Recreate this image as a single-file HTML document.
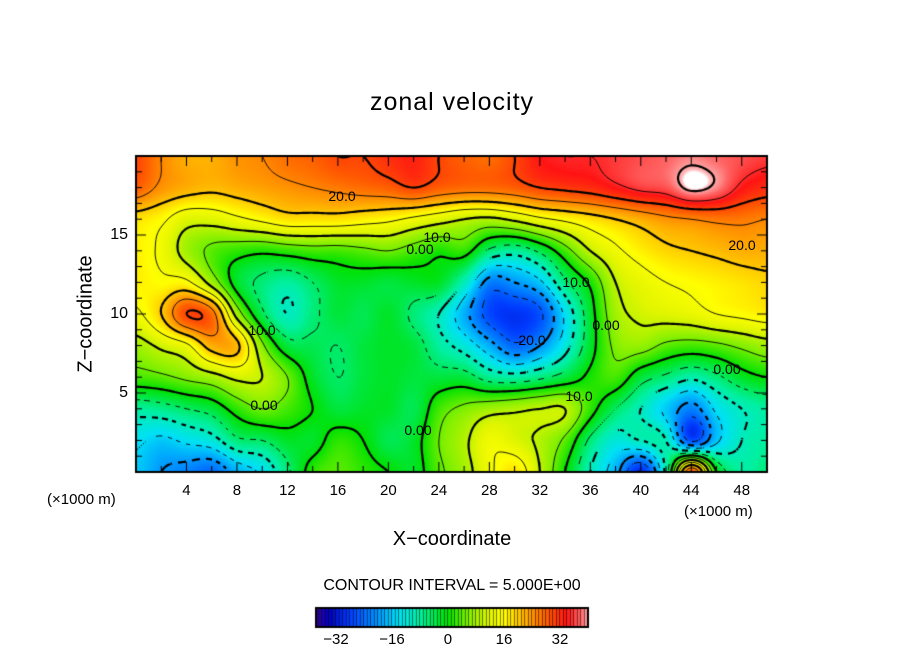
<!DOCTYPE html>
<html><head><meta charset="utf-8"><style>
body{margin:0;background:#fff;width:904px;height:654px;overflow:hidden;position:relative;font-family:"Liberation Sans",sans-serif}
.t{position:absolute;color:#000;white-space:nowrap}
canvas{position:absolute}
</style></head><body>
<div class="t" style="left:0;width:904px;text-align:center;top:88px;font-size:25px;letter-spacing:1px">zonal velocity</div>
<canvas id="plot" width="904" height="654" style="left:0;top:0"></canvas>
<div class="t" style="left:86px;top:314px;font-size:20px;transform:translate(-50%,-50%) rotate(-90deg)">Z−coordinate</div>
<div class="t" style="left:0;width:904px;text-align:center;top:528px;font-size:20px">X−coordinate</div>
<div class="t" style="left:47px;top:491px;font-size:15px">(×1000 m)</div>
<div class="t" style="left:684px;top:503px;font-size:15px">(×1000 m)</div>
<div class="t" style="left:0;width:904px;text-align:center;top:577px;font-size:16px">CONTOUR INTERVAL = 5.000E+00</div>
<div id="labels"></div>
<script>
const xs=[0,2,4,6,8,10,12,14,16,18,20,22,24,26,28,30,32,34,36,38,40,42,44,46,48,50];
const zs=[20,18,16,14,12,10,8,6,4,2,0];
const row20=[30,25,22,22,24,25,27,28,30,30,32,33,30,28,27,30,34,35,35,36,37,38,39,38,37,36];
const row18=[28,24,22,21,22,23,24,25,26,27,28,30,28,27,27,28,30,31,32,34,36,37,41,39,34,32];
const row16=[18,16,12,12,14,16,18,18,18,17,16,14,12,10,9,11,14,16,18,20,22,24,25,26,26,25];
const row14=[17,14,8,4,2,1,2,3,3,4,5,3,1,2,-6,-8,-4,3,10,14,17,19,20,21,22,22];
const row12=[17,16,16,8,-2,-6,-8,-5,-2,-2,-3,-2,-2,-10,-22,-20,-16,-6,1,10,13,15,16,17,18,19];
const row10=[14,20,30,27,8,-4,-10,-6,-3,-4,-2,-6,-10,-18,-27,-29,-26,-14,-2,8,11,12,13,15,16,17];
const row8=[8,11,14,22,21,6,-3,-4,-5,-3,-2,-3,-8,-12,-18,-24,-20,-12,-2,6,7,4,3,4,6,8];
const row6=[3,4,6,8,11,10,5,-2,-5,-3,-2,-3,-3,-3,-7,-8,-6,-3,1,3,-3,-6,-9,-6,-2,0];
const row4=[-8,-7,-5,-3,2,5,3,0,-3,-2,-2,-4,3,6,8,9,10,10,2,-5,-10,-16,-22,-14,-10,-8];
const row2=[-14,-16,-14,-12,-6,-5,-2,-2,2,0,-4,-2,5,9,14,12,9,4,-6,-12,-10,-10,-26,-16,-10,-8];
const row0=[-16,-20,-22,-24,-18,-14,-6,2,4,2,0,-2,4,8,14,18,10,0,-10,-18,-30,-8,30,0,-8,-6];
const rows=[row20,row18,row16,row14,row12,row10,row8,row6,row4,row2,row0];
const xTicks=[4,8,12,16,20,24,28,32,36,40,44,48];
const zTicks=[5,10,15];
const cbTicks=[-32,-16,0,16,32];
const X0=136,X1=767,Y0=156,Y1=472;
const sx=x=>X0+x/50*(X1-X0), sz=z=>Y1-z/20*(Y1-Y0);
const stops=[[-40,[90,0,140]],[-34,[0,0,190]],[-28,[0,60,255]],[-20,[0,150,255]],[-14,[0,225,245]],[-8,[0,240,160]],[0,[0,225,0]],[6,[130,240,0]],[12,[225,245,0]],[16,[255,255,0]],[22,[255,175,0]],[28,[255,95,0]],[34,[255,20,20]],[38,[255,100,100]],[40.5,[255,180,180]],[41,[255,255,255]]];
function col(v){if(v<=stops[0][0])return stops[0][1];for(let i=1;i<stops.length;i++){if(v<=stops[i][0]){const a=stops[i-1],b=stops[i],t=(v-a[0])/(b[0]-a[0]);return a[1].map((c,k)=>Math.round(c+(b[1][k]-c)*t));}}return stops[stops.length-1][1];}
function cr(p0,p1,p2,p3,t){return 0.5*(2*p1+(-p0+p2)*t+(2*p0-5*p1+4*p2-p3)*t*t+(-p0+3*p1-3*p2+p3)*t*t*t);}
const NR=rows.length,NC=xs.length;
function g(r,c){r=Math.max(0,Math.min(NR-1,r));c=Math.max(0,Math.min(NC-1,c));return rows[r][c];}
function val(x,z){const fc=x/50*(NC-1), fr=(20-z)/20*(NR-1);const c=Math.min(NC-2,Math.floor(fc)),r=Math.min(NR-2,Math.floor(fr));const tc=fc-c,tr=fr-r;const v=[];for(let k=-1;k<3;k++)v.push(cr(g(r+k,c-1),g(r+k,c),g(r+k,c+1),g(r+k,c+2),tc));return cr(v[0],v[1],v[2],v[3],tr);}
const cv=document.getElementById('plot'),ctx=cv.getContext('2d');
const W=X1-X0,H=Y1-Y0;const img=ctx.createImageData(W,H);
for(let j=0;j<H;j++)for(let i=0;i<W;i++){const v=val(i/W*50,20-j/H*20);const c=col(v);const o=(j*W+i)*4;img.data[o]=c[0];img.data[o+1]=c[1];img.data[o+2]=c[2];img.data[o+3]=255;}
ctx.putImageData(img,X0,Y0);
const S=2,gw=Math.floor(W/S)+1,gh=Math.floor(H/S)+1,F=[];
for(let j=0;j<gh;j++){F.push([]);for(let i=0;i<gw;i++)F[j].push(val(Math.min(W,i*S)/W*50,20-Math.min(H,j*S)/H*20));}
ctx.save();ctx.beginPath();ctx.rect(X0,Y0,W,H);ctx.clip();
for(let L=-35;L<=40;L+=5){ctx.beginPath();for(let j=0;j<gh-1;j++)for(let i=0;i<gw-1;i++){
if(L<0&&Math.floor((i+j)/3)%2===1)continue;
const a=F[j][i],b=F[j][i+1],c=F[j+1][i+1],d=F[j+1][i];const pts=[];const e=(p,q,x1,y1,x2,y2)=>{if((p<L)!==(q<L)){const t=(L-p)/(q-p);pts.push([x1+(x2-x1)*t,y1+(y2-y1)*t]);}};const x=X0+i*S,y=Y0+j*S;e(a,b,x,y,x+S,y);e(b,c,x+S,y,x+S,y+S);e(d,c,x,y+S,x+S,y+S);e(a,d,x,y,x,y+S);for(let k=0;k+1<pts.length;k+=2){ctx.moveTo(pts[k][0],pts[k][1]);ctx.lineTo(pts[k+1][0],pts[k+1][1]);}}
ctx.lineWidth=(L%10===0)?2.2:0.9;ctx.strokeStyle='#000';ctx.stroke();}
ctx.restore();
ctx.lineWidth=2;ctx.strokeRect(X0,Y0,W,H);
ctx.lineWidth=1;ctx.beginPath();
for(let x=2;x<50;x+=2){const len=x%4===0?10:6;ctx.moveTo(sx(x),Y1);ctx.lineTo(sx(x),Y1-len);ctx.moveTo(sx(x),Y0);ctx.lineTo(sx(x),Y0+len);}
for(let z=1;z<20;z++){const len=z%5===0?10:6;ctx.moveTo(X0,sz(z));ctx.lineTo(X0+len,sz(z));ctx.moveTo(X1,sz(z));ctx.lineTo(X1-len,sz(z));}
ctx.stroke();
const CB0=316,CB1=588,CBY=608,CBH=19,vmin=-37.7,vmax=40;
const cbx=v=>CB0+(v-vmin)/(vmax-vmin)*(CB1-CB0);
for(let v=-38;v<40;v++){const a=Math.max(CB0,cbx(v)),b=cbx(v+1);const c=col(v+0.5);ctx.fillStyle=`rgb(${c})`;ctx.fillRect(a,CBY,b-a,CBH);ctx.fillStyle='#000';ctx.fillRect(b-0.5,CBY,1,CBH);}
ctx.lineWidth=2;ctx.strokeRect(CB0,CBY,CB1-CB0,CBH);
const lab=document.getElementById('labels');
function addLabel(txt,x,y,name,fs,anchor){const d=document.createElement('div');d.className='t';d.textContent=txt;d.style.left=x+'px';d.style.top=y+'px';d.style.fontSize=fs+'px';d.style.transform=anchor;


lab.appendChild(d);}
xTicks.forEach(x=>addLabel(String(x),sx(x),482,'x-tick-label','15','translateX(-50%)'));
zTicks.forEach(z=>addLabel(String(z),128,sz(z),'z-tick-label','16','translate(-100%,-50%)'));
cbTicks.forEach(v=>addLabel(v<0?'−'+(-v):String(v),cbx(v),631,'colorbar-tick-label','15','translateX(-50%)'));
[["20.0",342,196],["10.0",437,237],["0.00",420,249],["10.0",576,282],["20.0",532,340],["0.00",606,325],["20.0",742,245],["0.00",727,369],["10.0",579,396],["10.0",262,330],["0.00",264,405],["0.00",418,430]].forEach(p=>addLabel(p[0],p[1],p[2],'contour-label','14','translate(-50%,-50%)'));
</script>
</body></html>
